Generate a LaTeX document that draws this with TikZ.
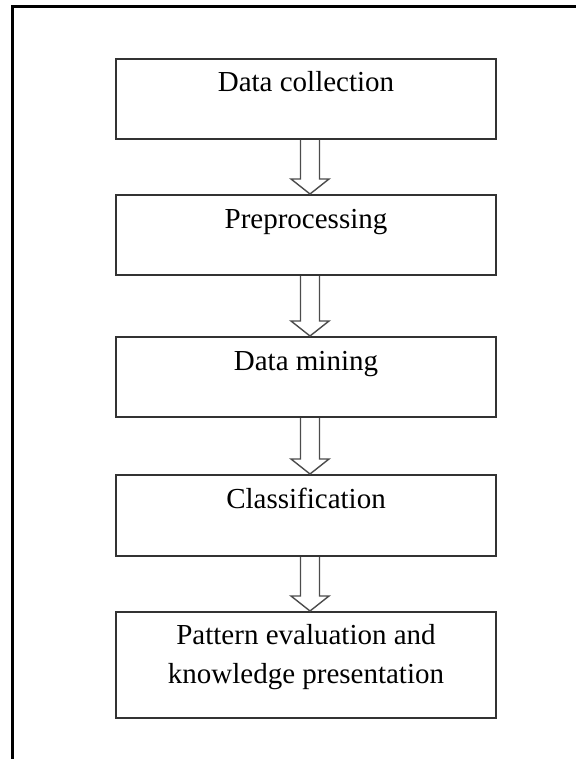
\documentclass[tikz,border=0pt]{standalone}
\usepackage{fontspec}
\setmainfont{Liberation Serif}
\usetikzlibrary{calc,positioning}

\begin{document}
\begin{tikzpicture}[x=1pt,y=-1pt,
    stage/.style={draw=black!80,line width=2pt,minimum width=380pt,inner sep=0pt,
      align=center,font=\fontsize{29}{39}\selectfont,text height=33pt,text depth=47pt},
    hollow/.style={draw=black!70,line width=1.4pt,line join=miter}]
    \useasboundingbox (0,0) rectangle (576,759);
    % outer frame
    \draw[line width=3pt](12.5,759)--(12.5,6.5)--(576,6.5);
    \node[stage,anchor=north] (collect) at (306,58) {Data collection};
    \node[stage,below=54pt of collect] (prep) {Preprocessing};
    \node[stage,below=60pt of prep] (mine) {Data mining};
    \node[stage,below=56pt of mine,text depth=48pt] (classify) {Classification};
    \node[stage,below=54pt of classify,text height=71pt,text depth=35pt] (pattern) {Pattern evaluation and\\knowledge presentation};
    % block arrows between the stages
    \foreach \a/\b in {collect/prep,prep/mine,mine/classify,classify/pattern}
      \draw[hollow] let \p1=(\a.south), \p2=(\b.north) in
        (\x1-5.5pt,\y1)--(\x1-5.5pt,\y2+15pt)--(\x1-15pt,\y2+15pt)--(\x1+4pt,\y2)
        --(\x1+23pt,\y2+15pt)--(\x1+13.5pt,\y2+15pt)--(\x1+13.5pt,\y1);
  \end{tikzpicture}
\end{document}
